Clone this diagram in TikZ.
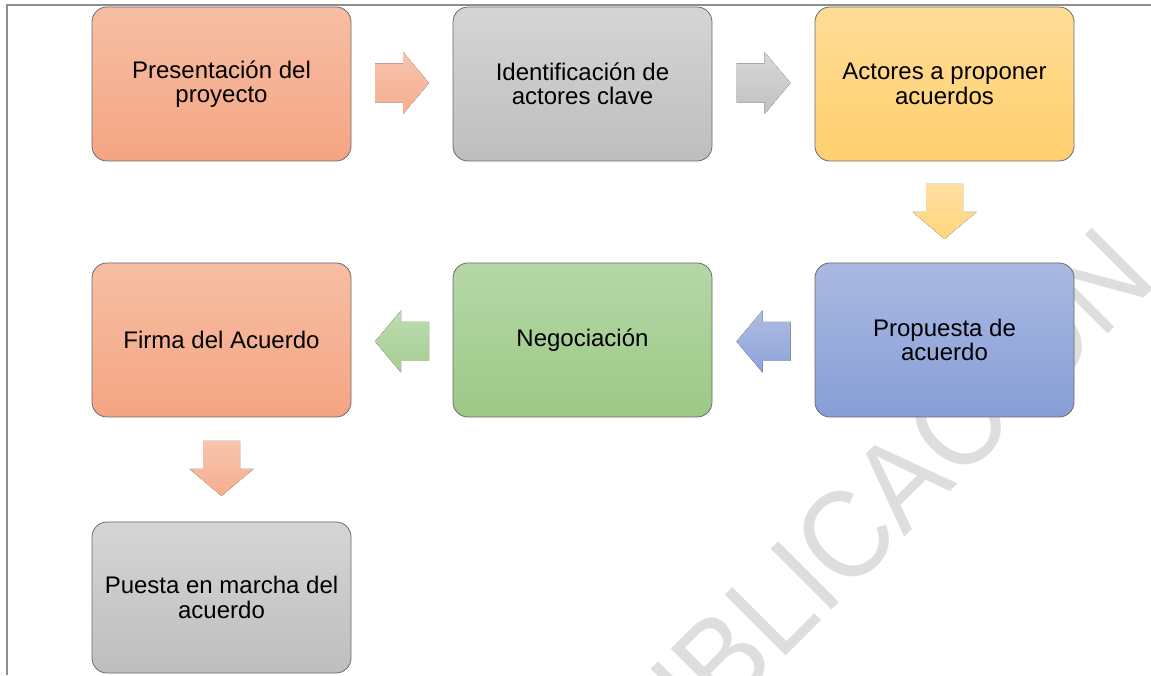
\documentclass[tikz,border=0pt]{standalone}
\usepackage{graphicx}
\usepackage{fontspec}
\setmainfont{Liberation Sans}
\usetikzlibrary{calc}
\definecolor{orT}{HTML}{F7BEA4}
\definecolor{orB}{HTML}{F4A582}
\definecolor{grT}{HTML}{D5D5D5}
\definecolor{grB}{HTML}{BEBEBE}
\definecolor{yeT}{HTML}{FFDC96}
\definecolor{yeB}{HTML}{FFD06E}
\definecolor{blT}{HTML}{AAB9E2}
\definecolor{blB}{HTML}{879ED6}
\definecolor{gnT}{HTML}{B5D7A7}
\definecolor{gnB}{HTML}{9CC986}
\definecolor{wmcol}{HTML}{DEDEDE}
\definecolor{framecol}{HTML}{8E8E8E}
\definecolor{boxline}{HTML}{6A6A6A}
\newcommand\rightblock[2]{\fill[#2, shift={(#1)}] (-27,19.5) -- (1,19.5) -- (1,31) -- (27,0) -- (1,-31) -- (1,-19.5) -- (-27,-19.5) -- cycle;}
\newcommand\leftblock[2]{\fill[#2, shift={(#1)}] (27,19.5) -- (-1,19.5) -- (-1,31) -- (-27,0) -- (-1,-31) -- (-1,-19.5) -- (27,-19.5) -- cycle;}
\newcommand\downblock[2]{\fill[#2, shift={(#1)}] (-18.5,27.5) -- (18.5,27.5) -- (18.5,-0.5) -- (32,-0.5) -- (0,-27.5) -- (-32,-0.5) -- (-18.5,-0.5) -- cycle;}
\tikzset{
  stagebox/.style={rounded corners=15pt, draw=boxline, line width=0.8pt,
    minimum width=259pt, minimum height=154pt, align=center, inner sep=0pt,
    font=\fontsize{24}{24.5}\selectfont, text=black},
  orfill/.style={top color=orT, bottom color=orB},
  grfill/.style={top color=grT, bottom color=grB},
  yefill/.style={top color=yeT, bottom color=yeB},
  blfill/.style={top color=blT, bottom color=blB},
  gnfill/.style={top color=gnT, bottom color=gnB},
  orarrow/.style={top color=orT!90!white, bottom color=orB!90!white},
  grarrow/.style={top color=grT!95!white, bottom color=grB!95!white},
  yearrow/.style={top color=yeT!90!white, bottom color=yeB!90!white},
  blarrow/.style={top color=blT!95!white, bottom color=blB!95!white},
  gnarrow/.style={top color=gnT!90!white, bottom color=gnB!90!white},
  watermark/.style={text=wmcol, font=\fontsize{125}{125}\selectfont, inner sep=0pt}
}
\begin{document}
\begin{tikzpicture}[x=1pt,y=1pt]
\useasboundingbox (0,0) rectangle (1151,675);
\fill[white] (0,0) rectangle (1151,675);
\begin{scope}
  \clip (0,0) rectangle (1151,675);
  \node[watermark, rotate=45, anchor=base west] (wm) at (614,-153) {\scalebox{0.91}[1]{PUBLICACIÓN}};
\end{scope}
\draw[framecol, line width=1.5pt] (7,0) -- (7,670) -- (1151,670);
% row 1
\node[stagebox, orfill] (b1) at (221.5,591) {Presentación del\\proyecto};
\node[stagebox, grfill] (b2) at (582.5,591) {Identificación de\\actores clave};
\node[stagebox, yefill] (b3) at (944.5,591) {Actores a proponer\\acuerdos};
% row 2
\node[stagebox, orfill] (b6) at (221.5,335) {Firma del Acuerdo};
\node[stagebox, gnfill] (b5) at (582.5,335) {Negociación};
\node[stagebox, blfill] (b4) at (944.5,335) {Propuesta de\\acuerdo};
% row 3
\node[stagebox, grfill, minimum height=151pt] (b7) at (221.5,77.5) {Puesta en marcha del\\acuerdo};
% arrow positions
\coordinate (a1) at ($(b1.east)!0.5!(b2.west)+(0,1)$);
\coordinate (a2) at ($(b2.east)!0.5!(b3.west)+(0,1)$);
\coordinate (a3) at ($(b3.south)!0.5!(b4.north)+(0,0.5)$);
\coordinate (a4) at ($(b4.west)!0.5!(b5.east)+(0,-1.5)$);
\coordinate (a5) at ($(b5.west)!0.5!(b6.east)+(0,-1.5)$);
\coordinate (a6) at ($(b6.south)!0.5!(b7.north)+(0,1)$);
\rightblock{a1}{orarrow}
\rightblock{a2}{grarrow}
\downblock{a3}{yearrow}
\leftblock{a4}{blarrow}
\leftblock{a5}{gnarrow}
\downblock{a6}{orarrow}
\end{tikzpicture}
\end{document}
